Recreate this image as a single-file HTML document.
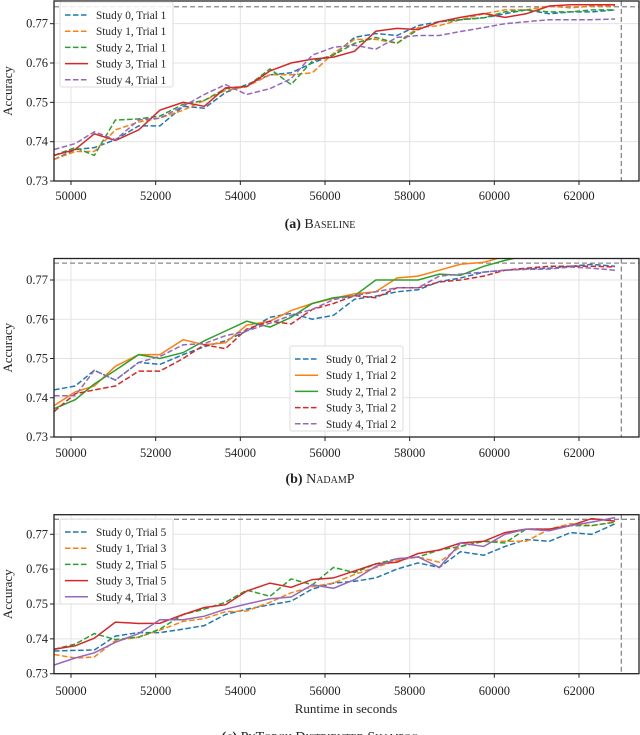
<!DOCTYPE html>
<html><head><meta charset="utf-8">
<style>
html,body{margin:0;padding:0;background:#fff;}
svg{display:block;}
text{font-family:"Liberation Serif",serif;fill:#222;}
</style></head>
<body>
<svg id="chart" width="640" height="735" viewBox="0 0 640 735"></svg>
<script>
const xs = [49600,50100,50550,51050,51600,52100,52650,53150,53650,54150,54700,55200,55700,56200,56700,57200,57700,58200,58700,59200,59750,60250,60750,61300,61800,62300,62850];
const xTicks = [50000,52000,54000,56000,58000,60000,62000];
const yTicks = [0.73,0.74,0.75,0.76,0.77];
const yTickLabels = ["0.73","0.74","0.75","0.76","0.77"];
const refAcc = 0.7743;
const refTime = 63000;
const colors = ["#1f77b4","#ff7f0e","#2ca02c","#d62728","#9467bd"];

const aNames = ["Study 0, Trial 1","Study 1, Trial 1","Study 2, Trial 1","Study 3, Trial 1","Study 4, Trial 1"];
const aDashed = [true,true,true,false,true];
const a0 = [.7355,.738,.7385,.7405,.744,.744,.749,.7485,.7525,.7545,.757,.7575,.760,.762,.7665,.7675,.767,.7695,.7705,.771,.7715,.7725,.7735,.7725,.773,.773,.7735];
const a1 = [.7355,.7375,.7375,.743,.745,.746,.748,.7505,.753,.754,.757,.757,.7575,.7625,.766,.766,.765,.769,.7695,.771,.7725,.7735,.7735,.7745,.774,.7745,.7745];
const a2 = [.7365,.7385,.7365,.7455,.7458,.7465,.7495,.7505,.7535,.754,.7585,.7545,.7605,.762,.765,.7665,.765,.7685,.7705,.771,.7715,.773,.7735,.773,.773,.7735,.7735];
const a3 = [.7365,.738,.742,.7403,.743,.748,.750,.749,.7537,.754,.758,.760,.761,.7615,.763,.7681,.7688,.7685,.7705,.7716,.7726,.7716,.7725,.7745,.7748,.7748,.7748];
const a4 = [.738,.7395,.7425,.7405,.7455,.746,.749,.752,.7545,.752,.7535,.756,.762,.764,.7645,.7635,.7665,.767,.767,.768,.769,.770,.7705,.771,.771,.771,.7712];

const bNames = ["Study 0, Trial 2","Study 1, Trial 2","Study 2, Trial 2","Study 3, Trial 2","Study 4, Trial 2"];
const bDashed = [true,false,false,true,true];
const b0 = [.742,.743,.747,.7445,.749,.7485,.751,.753,.7545,.757,.7605,.7615,.760,.761,.7651,.7659,.767,.7675,.7696,.7705,.772,.7725,.7728,.773,.7735,.774,.7735];
const b1 = [.738,.7415,.743,.748,.751,.751,.7548,.7535,.754,.7585,.7595,.7622,.764,.7653,.7665,.767,.7705,.771,.7725,.774,.7745,.776,.777,.777,.777,.777,.777];
const b2 = [.7372,.7395,.7435,.747,.751,.750,.7515,.7545,.757,.7595,.758,.7605,.764,.7655,.766,.770,.770,.770,.7715,.7712,.7735,.775,.7762,.777,.777,.777,.777];
const b3 = [.7365,.741,.742,.743,.7468,.7468,.750,.7535,.7525,.7575,.7595,.7588,.7625,.764,.766,.7655,.768,.768,.7695,.770,.771,.7725,.773,.7735,.7735,.7735,.7733];
const b4 = [.7405,.7405,.747,.7445,.749,.7505,.7535,.7538,.7558,.757,.759,.761,.7625,.765,.766,.767,.768,.768,.771,.7715,.772,.7725,.7727,.7728,.7733,.773,.7725];

const cNames = ["Study 0, Trial 5","Study 1, Trial 3","Study 2, Trial 5","Study 3, Trial 5","Study 4, Trial 3"];
const cDashed = [true,true,true,false,false];
const c0 = [.7365,.7367,.7368,.7408,.7418,.7418,.7428,.7438,.747,.7485,.7498,.7508,.7543,.756,.7565,.7575,.760,.7618,.7605,.765,.764,.7665,.7685,.768,.7705,.770,.773];
const c1 = [.7355,.7345,.7348,.7395,.7405,.7425,.745,.7458,.7478,.748,.7505,.7532,.755,.756,.7585,.7605,.7625,.7635,.762,.7665,.768,.768,.768,.7715,.773,.7725,.7735];
const c2 = [.737,.7385,.7415,.7398,.7405,.7428,.747,.7485,.7505,.754,.7522,.7572,.7555,.7605,.759,.7615,.763,.7635,.7655,.7665,.768,.7675,.7715,.7715,.7725,.7725,.7735];
const c3 = [.737,.738,.7402,.7448,.7444,.7445,.747,.749,.7498,.7537,.756,.7548,.757,.7575,.7595,.7615,.762,.7645,.7655,.7675,.768,.7705,.7715,.7715,.7725,.7745,.7738];
const c4 = [.7325,.7345,.736,.739,.7415,.7455,.7455,.7465,.7485,.750,.7515,.752,.7555,.7545,.757,.7608,.763,.7635,.7605,.7675,.7665,.770,.7715,.771,.7725,.7735,.7748];

const NS = "http://www.w3.org/2000/svg";
const svg = document.getElementById("chart");
const L = 54, R = 639;
function xScale(v){ return 71 + (v - 50000) * 0.042333; }
function mk(tag, parent){ const e = document.createElementNS(NS, tag); parent.appendChild(e); return e; }

const panels = [
  {id:"a", top:1, y73:181, k:3933, series:[a0,a1,a2,a3,a4], names:aNames, dashed:aDashed, legend:{x:60,y:2}, tickY:200, cap:"Baseline", capY:228},
  {id:"b", top:258.5, y73:437, k:3925, series:[b0,b1,b2,b3,b4], names:bNames, dashed:bDashed, legend:{x:290,y:346}, tickY:457, cap:"NadamP", capY:483},
  {id:"c", top:514.7, y73:673.7, k:3485, series:[c0,c1,c2,c3,c4], names:cNames, dashed:cDashed, legend:{x:60,y:519}, tickY:695, cap:"PyTorch Distributed Shampoo", capY:741}
];

panels.forEach(p => {
  const yScale = v => p.y73 - (v - 0.73) * p.k;
  const bottom = p.y73;
  const g = mk("g", svg);
  
  
  const cid = "clip-" + p.id;
  const cp = mk("clipPath", g); cp.setAttribute("id", cid);
  const cr = mk("rect", cp); cr.setAttribute("x", L); cr.setAttribute("y", p.top); cr.setAttribute("width", R-L); cr.setAttribute("height", bottom-p.top);
  xTicks.forEach(t => {
    const l = mk("line", g);
    
    
    l.setAttribute("x1", xScale(t)); l.setAttribute("x2", xScale(t)); l.setAttribute("y1", p.top); l.setAttribute("y2", bottom);
    l.setAttribute("stroke", "#e3e3e3"); l.setAttribute("stroke-width", "1");
    const tk = mk("line", g);
    
    
    tk.setAttribute("x1", xScale(t)); tk.setAttribute("x2", xScale(t)); tk.setAttribute("y1", bottom); tk.setAttribute("y2", bottom+4);
    tk.setAttribute("stroke", "#222"); tk.setAttribute("stroke-width", "1");
    const tx = mk("text", g);
    
    
    tx.setAttribute("x", xScale(t)); tx.setAttribute("y", p.tickY); tx.setAttribute("text-anchor", "middle"); tx.setAttribute("font-size", "12.5");
    tx.textContent = String(t);
  });
  yTicks.forEach((t, i) => {
    const y = yScale(t);
    if (i > 0) {
      const l = mk("line", g);
      
      
      l.setAttribute("x1", L); l.setAttribute("x2", R); l.setAttribute("y1", y); l.setAttribute("y2", y);
      l.setAttribute("stroke", "#e3e3e3"); l.setAttribute("stroke-width", "1");
    }
    const tk = mk("line", g);
    
    
    tk.setAttribute("x1", L-4); tk.setAttribute("x2", L); tk.setAttribute("y1", y); tk.setAttribute("y2", y);
    tk.setAttribute("stroke", "#222"); tk.setAttribute("stroke-width", "1");
    const tx = mk("text", g);
    
    
    tx.setAttribute("x", L-6); tx.setAttribute("y", y+4); tx.setAttribute("text-anchor", "end"); tx.setAttribute("font-size", "12.5");
    tx.textContent = yTickLabels[i];
  });
  const yl = mk("text", g);
  
  
  const cy = (p.top + bottom) / 2;
  yl.setAttribute("x", 0); yl.setAttribute("y", 0); yl.setAttribute("font-size", "13"); yl.setAttribute("text-anchor", "middle");
  yl.setAttribute("transform", "translate(12," + cy + ") rotate(-90)");
  yl.textContent = "Accuracy";
  const hl = mk("line", g);
  
  
  hl.setAttribute("x1", L); hl.setAttribute("x2", R); hl.setAttribute("y1", yScale(refAcc)); hl.setAttribute("y2", yScale(refAcc));
  hl.setAttribute("stroke", "#888"); hl.setAttribute("stroke-width", "1.3"); hl.setAttribute("stroke-dasharray", "5,3");
  const vl = mk("line", g);
  
  
  vl.setAttribute("x1", xScale(refTime)); vl.setAttribute("x2", xScale(refTime)); vl.setAttribute("y1", p.top); vl.setAttribute("y2", bottom);
  vl.setAttribute("stroke", "#888"); vl.setAttribute("stroke-width", "1.3"); vl.setAttribute("stroke-dasharray", "5,3");
  const sg = mk("g", g); sg.setAttribute("clip-path", "url(#" + cid + ")");
  p.series.forEach((s, si) => {
    const pl = mk("polyline", sg);
    
    
    pl.setAttribute("points", s.map((v, i) => xScale(xs[i]).toFixed(1) + "," + yScale(v).toFixed(1)).join(" "));
    pl.setAttribute("fill", "none"); pl.setAttribute("stroke", colors[si]); pl.setAttribute("stroke-width", "1.5");
    if (p.dashed[si]) pl.setAttribute("stroke-dasharray", "5.5,2.5");
  });
  const fr = mk("rect", g);
  
  
  fr.setAttribute("x", L); fr.setAttribute("y", p.top); fr.setAttribute("width", R-L); fr.setAttribute("height", bottom-p.top);
  fr.setAttribute("fill", "none"); fr.setAttribute("stroke", "#222"); fr.setAttribute("stroke-width", "1.3");
  const lg = mk("g", g);
  
  
  const lb = mk("rect", lg);
  lb.setAttribute("x", p.legend.x); lb.setAttribute("y", p.legend.y); lb.setAttribute("width", 113); lb.setAttribute("height", 85);
  lb.setAttribute("rx", 2); lb.setAttribute("fill", "#fff"); lb.setAttribute("fill-opacity", "0.85"); lb.setAttribute("stroke", "#ddd");
  p.names.forEach((n, i) => {
    const ey = p.legend.y + 13 + i * 16.2;
    const ll = mk("line", lg);
    
    
    ll.setAttribute("x1", p.legend.x + 5); ll.setAttribute("x2", p.legend.x + 28); ll.setAttribute("y1", ey); ll.setAttribute("y2", ey);
    ll.setAttribute("stroke", colors[i]); ll.setAttribute("stroke-width", "1.5");
    if (p.dashed[i]) ll.setAttribute("stroke-dasharray", "5.5,2.5");
    const lt = mk("text", lg);
    
    
    lt.setAttribute("x", p.legend.x + 36); lt.setAttribute("y", ey + 4); lt.setAttribute("font-size", "11.3");
    lt.textContent = n;
  });
  const cap = mk("text", g);
  
  
  cap.setAttribute("x", 320); cap.setAttribute("y", p.capY); cap.setAttribute("text-anchor", "middle"); cap.setAttribute("font-size", "14");
  const b = mk("tspan", cap); b.setAttribute("font-weight", "bold"); b.textContent = "(" + p.id + ") ";
  const t = mk("tspan", cap); t.setAttribute("style", "font-variant:small-caps"); t.textContent = p.cap;
});
const xl = mk("text", svg);


xl.setAttribute("x", 346); xl.setAttribute("y", 713); xl.setAttribute("text-anchor", "middle"); xl.setAttribute("font-size", "13");
xl.textContent = "Runtime in seconds";
</script>
</body></html>
